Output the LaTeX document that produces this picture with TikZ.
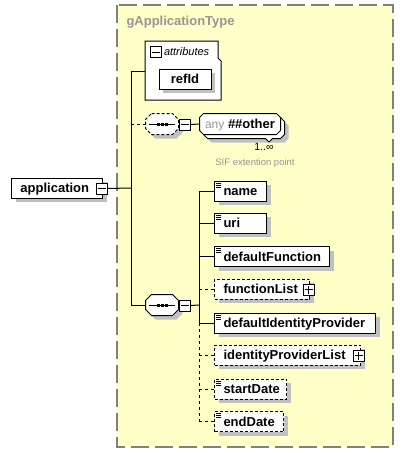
\documentclass[tikz,border=0pt]{standalone}
\usepackage{fontspec}
\setmainfont{Liberation Sans}
\usetikzlibrary{shadows}
\definecolor{grpfill}{RGB}{255,255,200}
\definecolor{grpline}{RGB}{128,128,128}
\definecolor{shgray}{RGB}{192,192,192}
\definecolor{txtgray}{RGB}{150,150,150}
\newcommand\efont{\fontsize{13}{15}\selectfont\bfseries}
\newcommand\minusmark[1]{\draw[line width=1pt] ([xshift=2pt]#1.west) -- ([xshift=-2pt]#1.east);}
\newcommand\plusmark[1]{\minusmark{#1}\draw[line width=1pt] ([yshift=-2pt]#1.north) -- ([yshift=2pt]#1.south);}
\newcommand\sicon[1]{\draw[line width=0.7pt] ([xshift=2pt,yshift=-2.5pt]#1.north west) -- +(5,0) ([xshift=2pt,yshift=-4.5pt]#1.north west) -- +(5,0) ([xshift=2pt,yshift=-6.5pt]#1.north west) -- +(5,0);}
\newcommand\seqmark[1]{\draw[line width=1pt] ([xshift=3pt]#1.west) -- ([xshift=-4pt]#1.east);
  \foreach \d in {-4,0,4} \fill ([xshift=\d pt]#1.center) +(-1.5,-1.5) rectangle +(1.5,1.5);}
% octagon around node #1, chamfer #2, offset #3,#4
\newcommand\octpath[4]{([xshift=#2+#3,yshift=#4]#1.north west) -- ([xshift=-#2+#3,yshift=#4]#1.north east) -- ([xshift=#3,yshift=-#2+#4]#1.north east) -- ([xshift=#3,yshift=#2+#4]#1.south east) -- ([xshift=-#2+#3,yshift=#4]#1.south east) -- ([xshift=#2+#3,yshift=#4]#1.south west) -- ([xshift=#3,yshift=#2+#4]#1.south west) -- ([xshift=#3,yshift=-#2+#4]#1.north west) -- cycle}
\begin{document}
\begin{tikzpicture}[x=1pt,y=-1pt,line width=1pt,
 sh/.style={general shadow={fill=shgray,shadow xshift=4pt,shadow yshift=-4pt}},
 bx/.style={draw,fill=white,minimum height=20pt,inner sep=0pt,text height=11.5pt,text depth=2.5pt,font=\efont},
 elem/.style={bx,sh,anchor=west,text width=#1,align=left,execute at begin node={\hspace*{9pt}}},
 optb/.style={dash pattern=on 3pt off 2pt},
 pm/.style={draw,fill=white,minimum size=11pt,inner sep=0pt},
 optc/.style={dash pattern=on 3pt off 3pt},
 geo/.style={inner sep=0pt,minimum height=20pt,minimum width=#1},
 lbl/.style={inner sep=0pt,text height=11.5pt,text depth=2.5pt,font=\efont},
]
\useasboundingbox (0,0) rectangle (404,453);
% group
\draw[draw=grpline,fill=grpfill,line width=1.3pt,dash pattern=on 18pt off 6pt] (117,5) rectangle (393,447);
\node[anchor=base west,inner sep=0pt,text=txtgray,font=\efont] (title) at (126,25.5) {gApplicationType};
% attributes
\draw[fill=white] (145,41) -- (218,41) -- (218,58) -- (221,61) -- (221,100) -- (145,100) -- cycle;
\coordinate (attrw) at (145,71);
\node[pm] (attrminus) at (155.5,52) {}; \minusmark{attrminus}
\node[anchor=base west,inner sep=0pt,font=\fontsize{11}{13}\selectfont\itshape] (attrlbl) at (163.5,55.5) {attributes};
\node[bx,sh,minimum width=52pt] (refid) at (185,79) {refId};
% compositor 1 + any
\node[geo=32pt] (c1) at (162,124) {};
\fill[shgray] \octpath{c1}{6pt}{4pt}{-4pt};
\draw[fill=white,optb] \octpath{c1}{6pt}{0pt}{0pt};
\seqmark{c1}
\node[pm] (c1m) at (184.5,124.5) {}; \minusmark{c1m}
\node[geo=80pt] (anyback) at (244,128) {};
\node[geo=80pt] (any) at (240,124) {};
\fill[shgray] \octpath{anyback}{4pt}{4pt}{-4pt};
\draw[fill=white] \octpath{anyback}{4pt}{0pt}{0pt};
\draw[fill=white] \octpath{any}{4pt}{0pt}{0pt};
\node[lbl] (anytext) at (any.center) {\textcolor{txtgray}{\fontsize{12}{14}\selectfont\mdseries any}~\#\#other};
\draw[fill=white,line width=0.8pt] (265,138) -- (269,142) -- (273,138);
\node[font=\fontsize{10.5}{12}\selectfont,inner sep=0pt] (card) at (264,147) {1..∞};
\node[font=\fontsize{9.5}{11}\selectfont,text=txtgray,inner sep=0pt] (sif) at (255,163) {SIF extention point};
% application
\node[elem=91pt] (app) at (11,188) {application};
\node[pm] (appm) at (101.5,188.5) {}; \minusmark{appm}
% compositor 2
\node[geo=32pt] (c2) at (162,305) {};
\fill[shgray] \octpath{c2}{6pt}{4pt}{-4pt};
\draw[fill=white] \octpath{c2}{6pt}{0pt}{0pt};
\seqmark{c2}
\node[pm] (c2m) at (184.5,305.5) {}; \minusmark{c2m}
% elements
\node[elem=52pt] (name) at (214,191) {name}; \sicon{name}
\node[elem=52pt] (uri) at (214,223) {uri}; \sicon{uri}
\node[elem=115pt] (dfun) at (214,256.5) {defaultFunction}; \sicon{dfun}
\node[elem=95pt,optb] (flist) at (214,289) {functionList};
\node[pm] (flistp) at (308.5,289.5) {}; \plusmark{flistp}
\node[elem=161pt] (dip) at (214,323) {defaultIdentityProvider}; \sicon{dip}
\node[elem=146pt,optb] (iplist) at (214,355) {identityProviderList};
\node[pm] (iplistp) at (358.5,355.5) {}; \plusmark{iplistp}
\node[elem=72pt,optb] (sdate) at (214,389) {startDate}; \sicon{sdate}
\node[elem=69pt,optb] (edate) at (214,421.5) {endDate}; \sicon{edate}
% connectors
\coordinate (j0) at (131,188);
\coordinate (jA) at (131,71);
\coordinate (jB) at (131,124);
\coordinate (jC) at (131,305);
\coordinate (k0) at (199,305);
\draw (appm.east) -- (j0);
\draw (attrw) -- (jA) -- (jC) -- (c2.west);
\draw[optc] (jB) -- (c1.west);
\draw (c1m.east) -- (any.west);
\draw (c2m.east) -- (k0);
\draw (k0 |- name.west) -- (k0 |- dip.west);
\draw[optc] (k0 |- dip.west) -- (k0 |- edate.west);
\draw (k0 |- name.west) -- (name.west);
\draw (k0 |- uri.west) -- (uri.west);
\draw (k0 |- dfun.west) -- (dfun.west);
\draw[optc] (k0 |- flist.west) -- (flist.west);
\draw (k0 |- dip.west) -- (dip.west);
\draw[optc] (k0 |- iplist.west) -- (iplist.west);
\draw[optc] (k0 |- sdate.west) -- (sdate.west);
\draw[optc] (k0 |- edate.west) -- (edate.west);
\end{tikzpicture}
\end{document}
